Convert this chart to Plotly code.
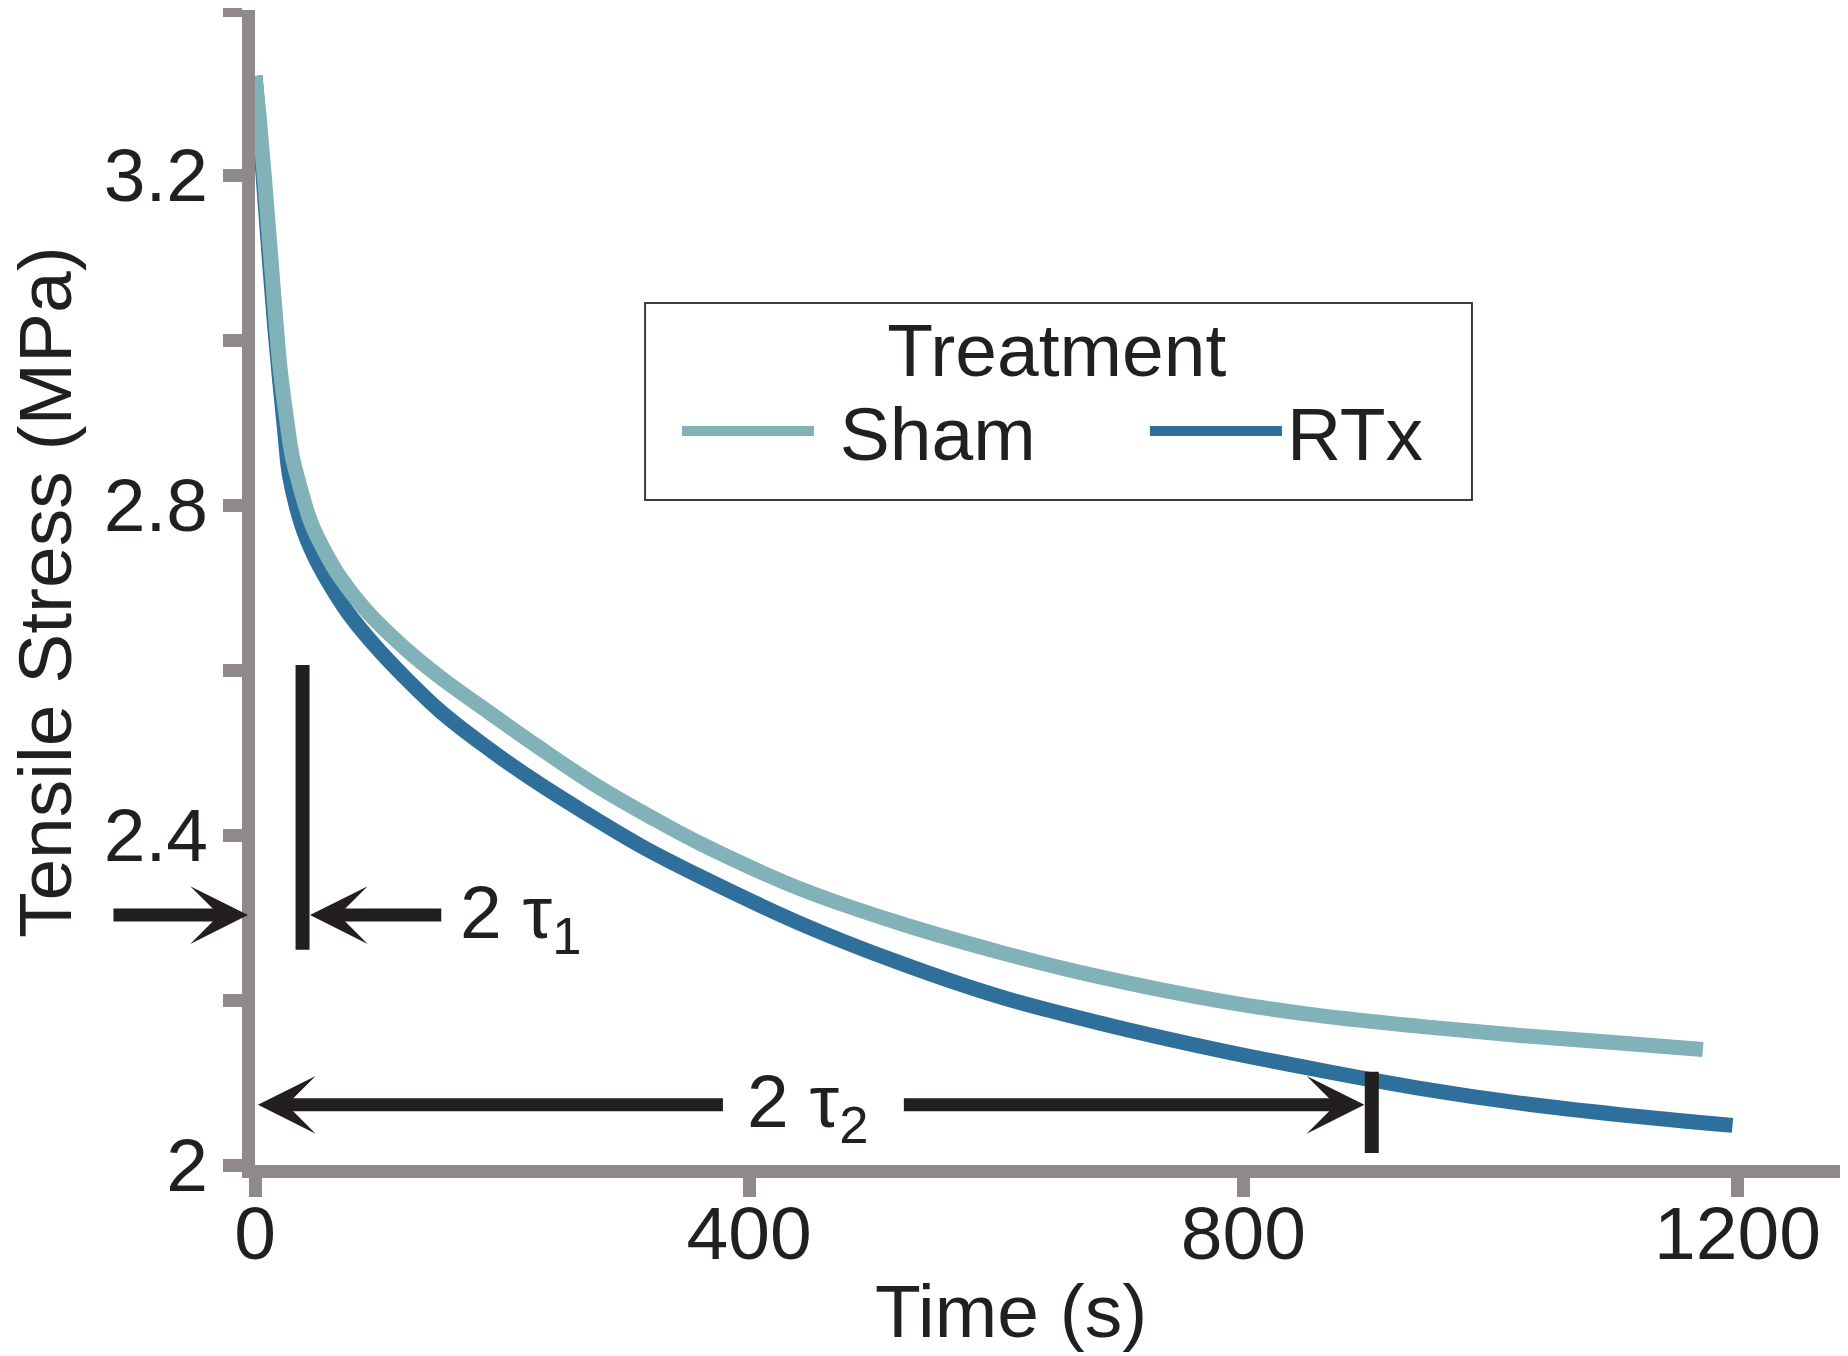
import plotly.graph_objects as go

# -----------------------------
# DATA
# -----------------------------
sham_time = [0, 4, 8, 12, 16, 20, 25, 30, 35, 45, 56, 69, 90, 120, 150, 190, 230, 274, 320,
             360, 441, 522, 603, 684, 781, 862, 943, 1024, 1105, 1172]
sham_stress = [3.32, 3.26, 3.19, 3.115, 3.04, 2.97, 2.91, 2.86, 2.83, 2.78, 2.745, 2.712, 2.672,
               2.628, 2.591, 2.548, 2.506, 2.462, 2.422, 2.390, 2.335, 2.293, 2.258, 2.228,
               2.199, 2.181, 2.168, 2.157, 2.148, 2.140]

rtx_time = [0, 4, 8, 12, 16, 20, 24, 28, 38, 48, 58, 75, 95, 120, 150, 185, 223, 265, 312, 360,
            441, 522, 603, 684, 781, 862, 943, 1024, 1105, 1196]
rtx_stress = [3.32, 3.25, 3.17, 3.09, 3.015, 2.95, 2.89, 2.835, 2.775, 2.738, 2.710, 2.670, 2.633,
              2.593, 2.550, 2.509, 2.469, 2.429, 2.387, 2.350, 2.293, 2.245, 2.204, 2.172, 2.139,
              2.115, 2.093, 2.075, 2.061, 2.048]

x_ticks = [0, 400, 800, 1200]
y_ticks = [2.0, 2.2, 2.4, 2.6, 2.8, 3.0, 3.2, 3.4]
y_labels = ["2", "", "2.4", "", "2.8", "", "3.2", ""]

two_tau1 = 38.5   # s
two_tau2 = 904    # s

X_MAX = 1283
SHAM = "#80b2b8"
RTX = "#2e6f9b"
AXIS = "#8f8a89"
INK = "#231f20"
FONT = "Liberation Sans, Arial, sans-serif"
FS = 75

# -----------------------------
# FIGURE
# -----------------------------
fig = go.Figure()
fig.add_trace(go.Scatter(x=rtx_time, y=rtx_stress, name="RTx", mode="lines",
                         line=dict(color=RTX, width=15, shape="spline"),
                         legendrank=2, legendwidth=145))
fig.add_trace(go.Scatter(x=sham_time, y=sham_stress, name="\u00a0Sham", mode="lines",
                         line=dict(color=SHAM, width=15, shape="spline"),
                         legendrank=1, legendwidth=321))

# tau markers: vertical bars
fig.add_shape(type="line", x0=two_tau1, x1=two_tau1, y0=2.261, y1=2.606,
              line=dict(color=INK, width=14), xref="x", yref="y")
fig.add_shape(type="line", x0=two_tau2, x1=two_tau2, y0=2.0145, y1=2.113,
              line=dict(color=INK, width=14), xref="x", yref="y")

# legend frame
fig.add_shape(type="rect", x0=0.2461, x1=0.7678, y0=0.5758, y1=0.7463,
              xref="paper", yref="paper", line=dict(color="#3c3a3a", width=2))

# arrows
y1_arrow = 2.303
y2_arrow = 2.073
head = dict(showarrow=True, text="", arrowhead=3, arrowsize=0.74, arrowwidth=13,
            arrowcolor=INK)
# arrow pointing at the y axis from outside the plot
fig.add_annotation(x=-5.7 / X_MAX, y=y1_arrow, xref="paper", yref="y",
                   ax=-136, ay=0, axref="pixel", ayref="pixel", **head)
fig.add_annotation(x=two_tau1 + 6, y=y1_arrow, ax=152, ay=y1_arrow,
                   xref="x", yref="y", axref="x", ayref="y", **head)
fig.add_annotation(x=2.4, y=y2_arrow, ax=380, ay=y2_arrow,
                   xref="x", yref="y", axref="x", ayref="y", **head)
fig.add_annotation(x=two_tau2 - 6, y=y2_arrow, ax=524, ay=y2_arrow,
                   xref="x", yref="y", axref="x", ayref="y", **head)

fig.add_annotation(x=164, y=y1_arrow, text="2 τ<sub>1</sub>", showarrow=False,
                   xanchor="left", yanchor="middle", yshift=-2,
                   font=dict(size=FS, color=INK, family=FONT))
fig.add_annotation(x=447, y=y2_arrow, text="2 τ<sub>2</sub>", showarrow=False,
                   xanchor="center", yanchor="middle", yshift=-2,
                   font=dict(size=FS, color=INK, family=FONT))

# axis titles
fig.add_annotation(x=0.477, y=-0.126, xref="paper", yref="paper", text="Time (s)",
                   xanchor="center", yanchor="middle", showarrow=False,
                   font=dict(size=FS, color=INK, family=FONT))
fig.add_annotation(x=-0.1325, y=0.496, xref="paper", yref="paper", text="Tensile Stress (MPa)",
                   textangle=-90, xanchor="center", yanchor="middle", showarrow=False,
                   borderpad=0, font=dict(size=FS, color=INK, family=FONT))

fig.update_xaxes(range=[0, X_MAX], tickvals=x_ticks, ticks="outside", ticklen=19, tickwidth=13,
                 tickcolor=AXIS, showline=True, linecolor=AXIS, linewidth=13, showgrid=False,
                 zeroline=False, ticklabelstandoff=-28,
                 tickfont=dict(size=FS, color=INK, family=FONT))
fig.update_yaxes(range=[2, 3.4], tickvals=y_ticks, ticktext=y_labels, ticks="outside", ticklen=19,
                 tickwidth=13, tickcolor=AXIS, showline=True, linecolor=AXIS, linewidth=13,
                 showgrid=False, zeroline=False, tickfont=dict(size=FS, color=INK, family=FONT))

fig.update_layout(
    width=1848, height=1356,
    margin=dict(l=247, r=16, t=2, b=199),
    plot_bgcolor="white", paper_bgcolor="white",
    font=dict(family=FONT, color=INK, size=FS),
    legend=dict(
        title=dict(text="Treatment", side="top center", font=dict(size=FS)),
        orientation="h", x=0.2662, y=0.7677, xanchor="left", yanchor="top",
        borderwidth=0, bgcolor="rgba(0,0,0,0)",
        itemwidth=132, font=dict(size=FS),
    ),
)

fig.write_html("out.html")
